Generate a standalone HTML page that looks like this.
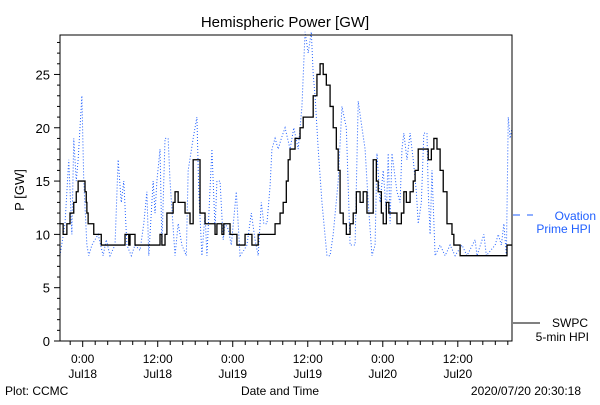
<!DOCTYPE html>
<html><head><meta charset="utf-8"><style>
body{margin:0;background:#fff;width:600px;height:400px;overflow:hidden}
svg text{font-family:"Liberation Sans",sans-serif;font-size:12px}
</style></head><body>
<svg id="c" width="600" height="400">
<text x="285" y="27" text-anchor="middle" style="font-size:15px">Hemispheric Power [GW]</text>
<text transform="translate(24,190) rotate(-90)" text-anchor="middle" style="font-size:13px">P [GW]</text>
<text x="280" y="395" text-anchor="middle">Date and Time</text>
<text x="5" y="395">Plot: CCMC</text>
<text x="581" y="395" text-anchor="end">2020/07/20 20:30:18</text>
<g>
<line x1="513" y1="215" x2="520" y2="215" stroke="#1f5fff"/><line x1="527" y1="215" x2="533" y2="215" stroke="#1f5fff"/>
<text x="596" y="220" text-anchor="end" fill="#1f5fff">Ovation</text>
<text x="591" y="233" text-anchor="end" fill="#1f5fff">Prime HPI</text>
</g>
<g>
<line x1="513" y1="323" x2="540" y2="323" stroke="#000"/>
<text x="588" y="327" text-anchor="end">SWPC</text>
<text x="589" y="341" text-anchor="end">5-min HPI</text>
</g>
<g id="axes"></g>
<polyline id="blue" fill="none" stroke="#1f5fff" stroke-width="1" stroke-dasharray="1 2"/>
<polyline id="black" fill="none" stroke="#000" stroke-width="1.3"/>
<rect x="60" y="35" width="452" height="306" fill="none" stroke="#000"/>
</svg>
<script>
// hours since plot start (Jul17 ~20:22 UT)
const swpcT=[0,0.5,1.1,1.6,2.2,2.6,2.9,4.0,4.2,4.3,4.5,5.4,6.6,10.4,11.0,11.2,12.0,16.0,16.3,16.8,17.1,18.1,18.4,18.9,20.0,20.8,21.3,22.4,23.2,24.8,25.1,25.9,26.2,27.2,28.3,29.6,30.7,31.7,34.4,35.2,35.7,36.2,36.5,36.8,37.6,38.4,38.9,40.5,41.1,41.6,42.1,42.6,43.2,43.7,44.2,44.5,44.8,45.3,45.8,46.4,46.9,47.4,48.0,48.5,49.1,50.1,50.6,50.9,51.4,51.7,52.2,52.6,53.9,54.6,55.0,55.4,56.0,56.5,56.8,57.3,58.9,59.4,59.8,60.3,60.8,61.3,61.9,62.7,63.0,64.0,71.5,72.3];
const swpcV=[11,10,11,12,13,14,15,14,13,12,11,10,9,10,9,10,9,10,9,10,12,13,14,13,12,11,17,12,11,10,11,10,11,10,9,10,9,10,11,12,13,15,17,18,19,20,21,23,25,26,25,24,22,20,18,16,12,11,10,11,12,14,13,14,12,17,15,14,12,11,13,12,11,12,14,13,14,15,16,18,17,18,19,18,16,14,11,10,9,8,9,9];
const ovT=[0,0.8,1.4,1.9,2.2,2.6,2.9,3.2,3.5,3.8,4.3,4.6,5.1,6.1,6.9,7.4,8.0,8.8,9.3,9.8,10.2,10.7,11.4,12.0,12.8,13.4,13.9,14.2,14.9,15.2,15.5,16.0,16.3,16.8,17.3,17.6,18.4,18.9,19.5,20.2,20.5,21.3,21.9,22.2,22.7,23.2,23.5,24.3,24.8,25.1,25.6,26.1,26.4,26.9,27.4,28.2,28.8,29.4,29.9,30.6,31.2,31.7,32.2,32.6,33.1,33.6,33.9,34.4,34.9,35.4,36.0,36.8,37.4,38.1,38.7,39.2,39.7,40.2,40.5,40.8,41.3,41.9,42.7,43.2,43.7,44.5,45.1,45.8,46.4,47.2,47.7,48.3,48.8,49.3,49.9,50.4,50.7,51.2,51.7,52.2,52.5,52.8,53.1,53.9,54.4,54.7,55.0,55.5,56.0,56.5,57.0,57.3,57.8,58.2,58.7,58.9,59.2,59.5,60.0,60.8,61.6,62.4,63.2,64.3,65.1,66.4,66.7,67.8,68.2,69.6,70.1,70.6,71.0,71.4,71.7,72.0,72.3];
const ovV=[8,11,17,10,19,15,17,20,23,15,9,8,9,10,8,9.5,8,9,17,13,15,9,8,9,8.5,11,14,8,15,12,15,18,9,19,19,15,8,11,9,8,16,19,21,14,8,12,8,18,10.5,15,15,9.5,11,10.5,9,14,8,8.5,9,12,9.5,8,13,11,11,14.5,18,19,18,19,20,18,20,18,22,29,27,29,25,23,18,13,8,8,10,15,22,20,9,9,22.5,20,18,13,8,9,17.6,13,16,12,17.6,11,17.6,14,13,18,19.5,17,19.5,17,14,11,13,19.5,19.5,14,10,16,8,9,8,9,8,9,8,9.5,8,10,8,9,10,9,11,8,21,19,20];
const yTicks=[0,5,10,15,20,25];
const xTickLabels=[["0:00","Jul18"],["12:00","Jul18"],["0:00","Jul19"],["12:00","Jul19"],["0:00","Jul20"],["12:00","Jul20"]];
const firstMidnight=3.63;
const X0=60,X1=512,Y0=341,Y1=35,TMAX=72.3,VMAX=28.7;
const sx=t=>X0+t/TMAX*(X1-X0);
const sy=v=>Y0-v/VMAX*(Y0-Y1);
const NS="http://www.w3.org/2000/svg";
const ax=document.getElementById('axes');
function mk(tag,attrs){const e=document.createElementNS(NS,tag);for(const k in attrs)e.setAttribute(k,attrs[k]);ax.appendChild(e);return e;}
for(let v=0;v<=28;v++){
  const maj=v%5===0;
  const l=mk('line',{x1:X0-(maj?6:3),x2:X0,y1:sy(v),y2:sy(v),stroke:'#000'});
  
  
}
yTicks.forEach(v=>{
  const t=mk('text',{x:X0-10,y:sy(v)+5,'text-anchor':'end'});
  
  
  t.style.fontSize='13px';t.textContent=v;
});
for(let k=-1;k<=35;k++){
  const t=firstMidnight+2*k; if(t<0||t>TMAX)continue;
  const maj=k%6===0;
  const l=mk('line',{x1:sx(t),x2:sx(t),y1:Y0,y2:Y0+(maj?6:4),stroke:'#000'});
  
  
}
xTickLabels.forEach((lab,i)=>{
  const x=sx(firstMidnight+12*i);
  const a=mk('text',{x:x,y:363,'text-anchor':'middle'});a.textContent=lab[0];
  
  
  const b=mk('text',{x:x,y:378,'text-anchor':'middle'});b.textContent=lab[1];
  
  
});
let p=[];
for(let i=0;i<swpcT.length;i++){
  if(i>0)p.push(sx(swpcT[i])+','+sy(swpcV[i-1]));
  p.push(sx(swpcT[i])+','+sy(swpcV[i]));
}
document.getElementById('black').setAttribute('points',p.join(' '));
document.getElementById('blue').setAttribute('points',ovT.map((t,i)=>sx(t)+','+sy(ovV[i])).join(' '));
</script>
</body></html>
